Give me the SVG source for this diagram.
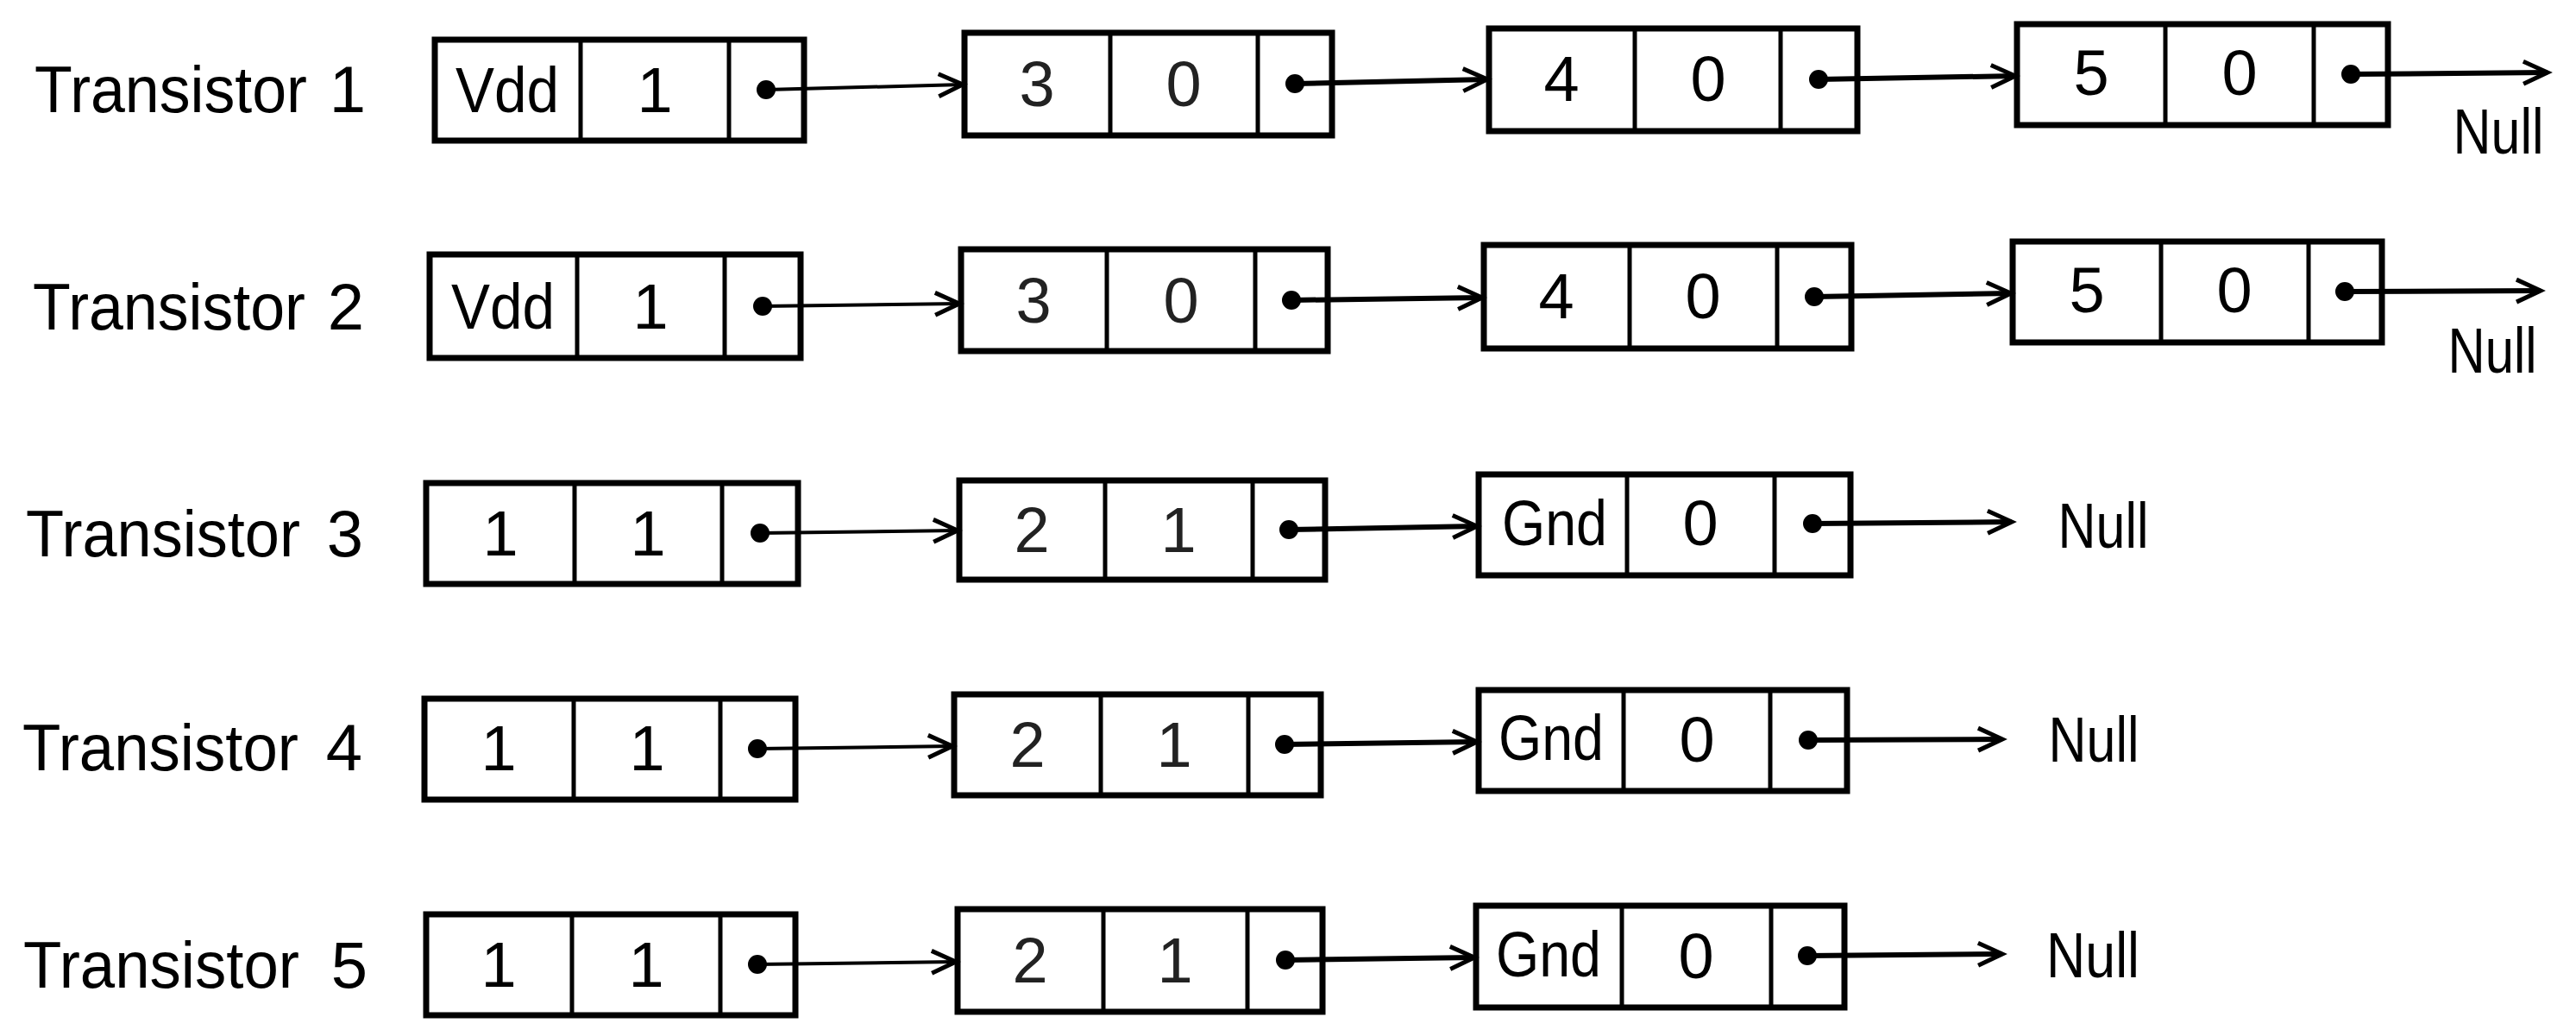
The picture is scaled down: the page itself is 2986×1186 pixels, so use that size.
<svg xmlns="http://www.w3.org/2000/svg" width="2986" height="1186" viewBox="0 0 2986 1186">
<style>
.box{fill:#fff;stroke:#000;stroke-width:7}
.dv{stroke:#000;stroke-width:5}
.t{font-family:"Liberation Sans",Arial,sans-serif;font-size:74px;fill:#000;text-anchor:middle}
.lt{font-family:"Liberation Sans",Arial,sans-serif;font-size:76px;fill:#000}
.num{text-anchor:middle}
.lt2{fill:#222}
.dot{fill:#000}
.thin{stroke:#000;stroke-width:4;fill:none}
.thick{stroke:#000;stroke-width:6;fill:none}
</style>
<defs>
<marker id="ah" markerUnits="userSpaceOnUse" markerWidth="44" markerHeight="40" refX="34" refY="18" orient="auto">
<path d="M6,5 L34,18 L6,31" fill="none" stroke="#000" stroke-width="5"/>
</marker>
</defs>
<rect width="2986" height="1186" fill="#fff"/>

<!-- labels -->
<g id="label1"><text class="lt" x="40" y="130" textLength="316" lengthAdjust="spacingAndGlyphs">Transistor</text><text class="lt num" x="403" y="130">1</text></g>
<g id="label2"><text class="lt" x="38" y="382" textLength="316" lengthAdjust="spacingAndGlyphs">Transistor</text><text class="lt num" x="401" y="382">2</text></g>
<g id="label3"><text class="lt" x="30" y="645" textLength="318" lengthAdjust="spacingAndGlyphs">Transistor</text><text class="lt num" x="400" y="645">3</text></g>
<g id="label4"><text class="lt" x="26" y="893" textLength="320" lengthAdjust="spacingAndGlyphs">Transistor</text><text class="lt num" x="399" y="893">4</text></g>
<g id="label5"><text class="lt" x="27" y="1145" textLength="320" lengthAdjust="spacingAndGlyphs">Transistor</text><text class="lt num" x="405" y="1145">5</text></g>

<!-- Row 1 -->
<g id="t1-n1"><rect class="box" x="504" y="46" width="428" height="117"/><line class="dv" x1="673" y1="46" x2="673" y2="163"/><line class="dv" x1="845" y1="46" x2="845" y2="163"/><text class="t" x="588" y="130" textLength="120" lengthAdjust="spacingAndGlyphs">Vdd</text><text class="t" x="759" y="130">1</text><circle class="dot" cx="888" cy="104" r="11"/></g>
<g id="t1-n2"><rect class="box" x="1118" y="38" width="426" height="119"/><line class="dv" x1="1287" y1="38" x2="1287" y2="157"/><line class="dv" x1="1458" y1="38" x2="1458" y2="157"/><text class="t lt2" x="1202" y="123">3</text><text class="t lt2" x="1372" y="123">0</text><circle class="dot" cx="1501" cy="97" r="11"/></g>
<g id="t1-n3"><rect class="box" x="1726" y="33" width="427" height="119"/><line class="dv" x1="1895" y1="33" x2="1895" y2="152"/><line class="dv" x1="2064" y1="33" x2="2064" y2="152"/><text class="t" x="1810" y="117">4</text><text class="t" x="1980" y="117">0</text><circle class="dot" cx="2108" cy="92" r="11"/></g>
<g id="t1-n4"><rect class="box" x="2338" y="28" width="430" height="117"/><line class="dv" x1="2510" y1="28" x2="2510" y2="145"/><line class="dv" x1="2682" y1="28" x2="2682" y2="145"/><text class="t" x="2424" y="110">5</text><text class="t" x="2596" y="110">0</text><circle class="dot" cx="2725" cy="86" r="11"/></g>
<g id="t1-null"><text class="t" x="2896" y="178" textLength="105" lengthAdjust="spacingAndGlyphs">Null</text></g>

<!-- Row 2 -->
<g id="t2-n1"><rect class="box" x="498" y="295" width="430" height="120"/><line class="dv" x1="669" y1="295" x2="669" y2="415"/><line class="dv" x1="840" y1="295" x2="840" y2="415"/><text class="t" x="583" y="381" textLength="120" lengthAdjust="spacingAndGlyphs">Vdd</text><text class="t" x="754" y="381">1</text><circle class="dot" cx="884" cy="355" r="11"/></g>
<g id="t2-n2"><rect class="box" x="1114" y="289" width="425" height="118"/><line class="dv" x1="1283" y1="289" x2="1283" y2="407"/><line class="dv" x1="1455" y1="289" x2="1455" y2="407"/><text class="t lt2" x="1198" y="374">3</text><text class="t lt2" x="1369" y="374">0</text><circle class="dot" cx="1497" cy="348" r="11"/></g>
<g id="t2-n3"><rect class="box" x="1720" y="284" width="426" height="120"/><line class="dv" x1="1889" y1="284" x2="1889" y2="404"/><line class="dv" x1="2060" y1="284" x2="2060" y2="404"/><text class="t" x="1804" y="369">4</text><text class="t" x="1974" y="369">0</text><circle class="dot" cx="2103" cy="344" r="11"/></g>
<g id="t2-n4"><rect class="box" x="2333" y="280" width="428" height="117"/><line class="dv" x1="2505" y1="280" x2="2505" y2="397"/><line class="dv" x1="2676" y1="280" x2="2676" y2="397"/><text class="t" x="2419" y="362">5</text><text class="t" x="2590" y="362">0</text><circle class="dot" cx="2718" cy="338" r="11"/></g>
<g id="t2-null"><text class="t" x="2889" y="432" textLength="103" lengthAdjust="spacingAndGlyphs">Null</text></g>

<!-- Row 3 -->
<g id="t3-n1"><rect class="box" x="494" y="560" width="431" height="117"/><line class="dv" x1="666" y1="560" x2="666" y2="677"/><line class="dv" x1="837" y1="560" x2="837" y2="677"/><text class="t" x="580" y="644">1</text><text class="t" x="751" y="644">1</text><circle class="dot" cx="881" cy="618" r="11"/></g>
<g id="t3-n2"><rect class="box" x="1112" y="557" width="424" height="115"/><line class="dv" x1="1281" y1="557" x2="1281" y2="672"/><line class="dv" x1="1452" y1="557" x2="1452" y2="672"/><text class="t lt2" x="1196" y="640">2</text><text class="t lt2" x="1366" y="640">1</text><circle class="dot" cx="1494" cy="614" r="11"/></g>
<g id="t3-n3"><rect class="box" x="1714" y="550" width="431" height="117"/><line class="dv" x1="1886" y1="550" x2="1886" y2="667"/><line class="dv" x1="2057" y1="550" x2="2057" y2="667"/><text class="t" x="1802" y="632" textLength="122" lengthAdjust="spacingAndGlyphs">Gnd</text><text class="t" x="1971" y="632">0</text><circle class="dot" cx="2101" cy="607" r="11"/></g>
<g id="t3-null"><text class="t" x="2438" y="635" textLength="105" lengthAdjust="spacingAndGlyphs">Null</text></g>

<!-- Row 4 -->
<g id="t4-n1"><rect class="box" x="492" y="810" width="430" height="117"/><line class="dv" x1="665" y1="810" x2="665" y2="927"/><line class="dv" x1="835" y1="810" x2="835" y2="927"/><text class="t" x="578" y="893">1</text><text class="t" x="750" y="893">1</text><circle class="dot" cx="878" cy="868" r="11"/></g>
<g id="t4-n2"><rect class="box" x="1106" y="805" width="425" height="117"/><line class="dv" x1="1276" y1="805" x2="1276" y2="922"/><line class="dv" x1="1447" y1="805" x2="1447" y2="922"/><text class="t lt2" x="1191" y="889">2</text><text class="t lt2" x="1361" y="889">1</text><circle class="dot" cx="1489" cy="863" r="11"/></g>
<g id="t4-n3"><rect class="box" x="1714" y="800" width="427" height="117"/><line class="dv" x1="1882" y1="800" x2="1882" y2="917"/><line class="dv" x1="2052" y1="800" x2="2052" y2="917"/><text class="t" x="1798" y="881" textLength="122" lengthAdjust="spacingAndGlyphs">Gnd</text><text class="t" x="1967" y="883">0</text><circle class="dot" cx="2096" cy="858" r="11"/></g>
<g id="t4-null"><text class="t" x="2427" y="883" textLength="105" lengthAdjust="spacingAndGlyphs">Null</text></g>

<!-- Row 5 -->
<g id="t5-n1"><rect class="box" x="494" y="1060" width="428" height="117"/><line class="dv" x1="663" y1="1060" x2="663" y2="1177"/><line class="dv" x1="835" y1="1060" x2="835" y2="1177"/><text class="t" x="578" y="1144">1</text><text class="t" x="749" y="1144">1</text><circle class="dot" cx="878" cy="1118" r="11"/></g>
<g id="t5-n2"><rect class="box" x="1110" y="1054" width="423" height="119"/><line class="dv" x1="1279" y1="1054" x2="1279" y2="1173"/><line class="dv" x1="1446" y1="1054" x2="1446" y2="1173"/><text class="t lt2" x="1194" y="1139">2</text><text class="t lt2" x="1362" y="1139">1</text><circle class="dot" cx="1490" cy="1113" r="11"/></g>
<g id="t5-n3"><rect class="box" x="1711" y="1050" width="427" height="118"/><line class="dv" x1="1880" y1="1050" x2="1880" y2="1168"/><line class="dv" x1="2053" y1="1050" x2="2053" y2="1168"/><text class="t" x="1795" y="1132" textLength="122" lengthAdjust="spacingAndGlyphs">Gnd</text><text class="t" x="1966" y="1134">0</text><circle class="dot" cx="2095" cy="1108" r="11"/></g>
<g id="t5-null"><text class="t" x="2426" y="1133" textLength="108" lengthAdjust="spacingAndGlyphs">Null</text></g>

<!-- connectors (drawn last so they start at the dots) -->
<g id="connectors">
<line class="thin" x1="888" y1="104" x2="1116" y2="98" marker-end="url(#ah)"/>
<line class="thick" x1="1501" y1="97" x2="1724" y2="92" marker-end="url(#ah)"/>
<line class="thick" x1="2108" y1="92" x2="2336" y2="88" marker-end="url(#ah)"/>
<line class="thick" x1="2725" y1="86" x2="2953" y2="84" marker-end="url(#ah)"/>

<line class="thin" x1="884" y1="355" x2="1112" y2="352" marker-end="url(#ah)"/>
<line class="thick" x1="1497" y1="348" x2="1718" y2="345" marker-end="url(#ah)"/>
<line class="thick" x1="2103" y1="344" x2="2331" y2="340" marker-end="url(#ah)"/>
<line class="thick" x1="2718" y1="338" x2="2945" y2="337" marker-end="url(#ah)"/>

<line class="thin" x1="881" y1="618" x2="1110" y2="615" marker-end="url(#ah)"/>
<line class="thick" x1="1494" y1="614" x2="1712" y2="610" marker-end="url(#ah)"/>
<line class="thick" x1="2101" y1="607" x2="2332" y2="605" marker-end="url(#ah)"/>

<line class="thin" x1="878" y1="868" x2="1104" y2="865" marker-end="url(#ah)"/>
<line class="thick" x1="1489" y1="863" x2="1712" y2="860" marker-end="url(#ah)"/>
<line class="thick" x1="2096" y1="858" x2="2321" y2="857" marker-end="url(#ah)"/>

<line class="thin" x1="878" y1="1118" x2="1108" y2="1115" marker-end="url(#ah)"/>
<line class="thick" x1="1490" y1="1113" x2="1709" y2="1110" marker-end="url(#ah)"/>
<line class="thick" x1="2095" y1="1108" x2="2321" y2="1106" marker-end="url(#ah)"/>
</g>
</svg>
